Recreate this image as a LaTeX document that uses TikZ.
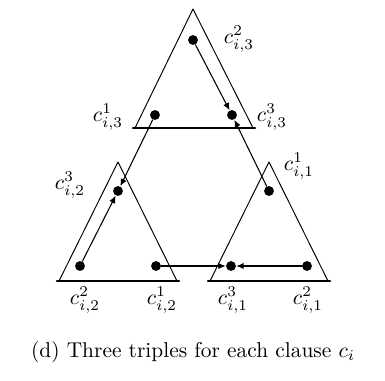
\documentclass[tikz,border=0pt]{standalone}
\usepackage{amsmath}
\usepackage{tikz}
\usetikzlibrary{arrows.meta}

\begin{document}
\begin{tikzpicture}[
  x=0.0164cm,y=-0.0164cm,
  line cap=round,line join=round,
  tri/.style={line width=0.45pt},
  base/.style={line width=1.1pt},
  pt/.style={circle,fill=black,inner sep=0pt,minimum size=4.6pt},
  link/.style={line width=0.5pt,-{Latex[length=3.4pt,width=3pt]}},
  >=Latex
]
  \useasboundingbox (0,0) rectangle (385,381);

  % Triangles
  \draw[tri] (193,9) -- (135,128) -- (253,128) -- cycle;
  \draw[tri] (118,162) -- (59,281) -- (177,281) -- cycle;
  \draw[tri] (269,162) -- (210,281) -- (328,281) -- cycle;
  \draw[base] (133,128) -- (255,128);
  \draw[base] (57,281) -- (179,281);
  \draw[base] (208,281) -- (330,281);

  % Points
  \node[pt] (t2) at (193,40) {};
  \node[pt] (t1) at (155,115) {};
  \node[pt] (t3) at (232,115) {};
  \node[pt] (l3) at (118,191) {};
  \node[pt] (l2) at (80,266) {};
  \node[pt] (l1) at (156,266) {};
  \node[pt] (r1) at (269,191) {};
  \node[pt] (r3) at (231,266) {};
  \node[pt] (r2) at (307,266) {};

  % Links
  \draw[link] (t2) -- (t3);
  \draw[link] (r1) -- (t3);
  \draw[link] (t1) -- (l3);
  \draw[link] (l2) -- (l3);
  \draw[link] (l1) -- (r3);
  \draw[link] (r2) -- (r3);

  % Labels
  \node at (239,39) {$c^2_{i,3}$};
  \node at (108,117) {$c^1_{i,3}$};
  \node at (272,117) {$c^3_{i,3}$};
  \node at (299,166) {$c^1_{i,1}$};
  \node at (70,185) {$c^3_{i,2}$};
  \node at (85,300) {$c^2_{i,2}$};
  \node at (162,300) {$c^1_{i,2}$};
  \node at (233,300) {$c^3_{i,1}$};
  \node at (308,300) {$c^2_{i,1}$};

  % Caption
  \node at (193,352) {(d) Three triples for each clause $c_i$};
\end{tikzpicture}
\end{document}
